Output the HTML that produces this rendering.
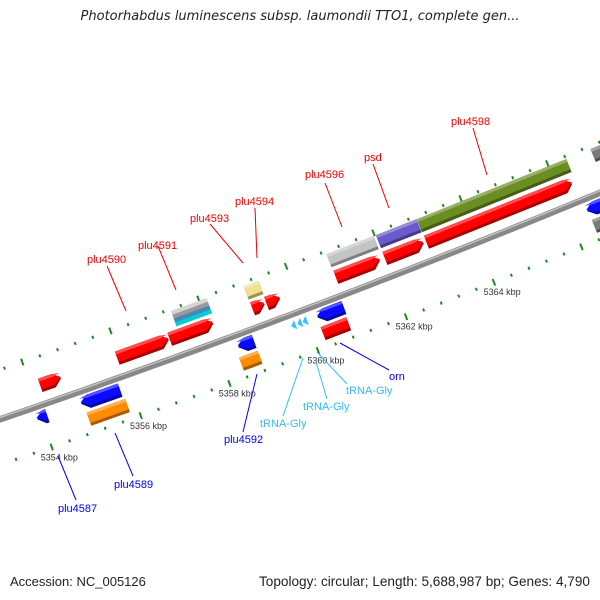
<!DOCTYPE html>
<html><head><meta charset="utf-8">
<style>
html,body{margin:0;padding:0;background:#fff;}
#wrap{position:relative;width:600px;height:600px;overflow:hidden;font-family:"Liberation Sans",sans-serif;}
#title{position:absolute;top:9px;left:0;width:600px;text-align:center;font-style:italic;font-size:13px;color:#222;font-family:"DejaVu Sans",sans-serif;}
.foot{position:absolute;top:574px;font-size:13px;color:#222;}
svg{position:absolute;left:0;top:0;}
</style></head>
<body>
<div id="wrap">
<div id="title">Photorhabdus luminescens subsp. laumondii TTO1, complete gen...</div>
<svg id="map" width="600" height="600"></svg>
<div class="foot" style="left:10px">Accession: NC_005126</div>
<div class="foot" style="right:10px;font-size:13.6px">Topology: circular; Length: 5,688,987 bp; Genes: 4,790</div>
</div>
<script>
// ---- data (kbp positions) ----
const featStart = [5352.9,5354.20,5355.94,5357.13,5359.01,5359.33,5360.91,5362.03,5362.98,
  5357.36,5357.36,5357.36,5357.36,5359.0,5360.9,5362.03,5362.97,5366.97,
  5353.9,5354.89,5358.44,5360.24,5366.4,
  5354.94,5358.38,5360.23,5366.42,
  5359.65,5359.79,5359.91];
const featEnd = [5353.23,5354.67,5357.11,5358.12,5359.29,5359.64,5361.92,5362.92,5366.33,
  5358.17,5358.17,5358.17,5358.17,5359.34,5361.98,5362.96,5366.41,5368.0,
  5354.13,5355.77,5358.80,5360.84,5367.6,
  5355.81,5358.80,5360.81,5367.6,
  5359.75,5359.89,5360.01];
const featLane = [-19,-19,-19,-19,-19,-19,-19,-19,-19,
  -43,-39,-35,-31,-36,-37,-37,-37,-37,
  12,12,12,12,12,
  29,29,29,29,
  11,11,11];
const featColor = ['#ff0000','#ff0000','#ff0000','#ff0000','#ff0000','#ff0000','#ff0000','#ff0000','#ff0000',
  '#d4d4d4','#9a9a9a','#4a86b8','#00cdd4','#eee08c','#c4c4c4','#6a5acd','#6b8e23','#7a7a7a',
  '#0a0aff','#0a0aff','#0a0aff','#0a0aff','#0a0aff',
  '#ff8c00','#ff8c00','#ff0000','#7a7a7a',
  '#33c4ff','#33c4ff','#33c4ff'];
const featKind = ['f','f','f','f','f','f','f','f','f',
  't','t','t','t','b','b','b','b','b',
  'r','r','r','r','r',
  'b','b','b','b',
  'g','g','g'];
const tickStartKbp = 5352, tickEndKbp = 5368;
const tickLabels = [5354,5356,5358,5360,5362,5364];

// ---- geometry ----
const CX=-3403, CY=-9498, R=10485, K0=5360, PXK=47;
const PHI0=Math.atan2(303.1-CY,300-CX);
function pt(k,d){const p=PHI0-(k-K0)*PXK/R, r=R+d;return [CX+r*Math.cos(p),CY+r*Math.sin(p)];}
const svg=document.getElementById('map');
const NS='http://www.w3.org/2000/svg';
function mk(tag,attrs,parent){const e=document.createElementNS(NS,tag);for(const a in attrs)e.setAttribute(a,attrs[a]);(parent||svg).appendChild(e);return e;}
function P(list){return list.map(p=>p[0].toFixed(1)+','+p[1].toFixed(1)).join(' ');}
function shade(hex,f){let n=parseInt(hex.slice(1),16);let r=n>>16,g=(n>>8)&255,b=n&255;
  if(f<0){r*=1+f;g*=1+f;b*=1+f;}else{r+=(255-r)*f;g+=(255-g)*f;b+=(255-b)*f;}
  return 'rgb('+Math.round(r)+','+Math.round(g)+','+Math.round(b)+')';}

// backbone
let bb=[];for(let k=5350;k<=5370;k+=0.25)bb.push(pt(k,0));
const bbl=mk('polyline',{points:P(bb),fill:'none',stroke:'#888','stroke-width':6.5});


let bb2=[];for(let k=5350;k<=5370;k+=0.25)bb2.push(pt(k,-1.8));
mk('polyline',{points:P(bb2),fill:'none',stroke:'#c4c4c4','stroke-width':1.4});

// ticks
const nT=Math.round((tickEndKbp-tickStartKbp)/0.4);
for(let i=0;i<=nT;i++){
  const k=tickStartKbp+i*0.4, big=(i%5===0), h=big?3.5:1.5;
  [-47,43].forEach(d=>{
    const a=pt(k,d-h),b=pt(k,d+h);
    const t=mk('line',{x1:a[0],y1:a[1],x2:b[0],y2:b[1],stroke:'#1e8a1e','stroke-width':2});
    
    
  });
}
tickLabels.forEach(k=>{
  const p=pt(k+0.06,58);
  const t=mk('text',{x:p[0],y:p[1],'text-anchor':'middle','font-size':9,fill:'#333','font-family':'Liberation Sans, sans-serif'});
  t.textContent=k+' kbp';
  
  
});

// features
for(let i=0;i<featStart.length;i++){
  const s=featStart[i],e=featEnd[i],d=featLane[i],c=featColor[i],kind=featKind[i];
  const g=mk('g',{});
  
  
  const half = kind==='t'?2.2:(kind==='g'?5:7);
  const ah=0.17;
  function shape(top,bot){
    const m=(top+bot)/2;
    if(kind==='f'){const tip=Math.max(s,e-ah);return [pt(s,top),pt(tip,top),pt(e,m),pt(tip,bot),pt(s,bot)];}
    if(kind==='r'){const tip=Math.min(e,s+ah);return [pt(s,m),pt(tip,top),pt(e,top),pt(e,bot),pt(tip,bot)];}
    return [pt(s,top),pt(e,top),pt(e,bot),pt(s,bot)];
  }
  const top=d-half,bot=d+half;
  if(kind==='t'){mk('polygon',{points:P(shape(top,bot)),fill:c},g);continue;}
  if(kind==='g'){mk('polygon',{points:P([pt(s,d),pt(e,d-half),pt(e,d+half)]),fill:c},g);continue;}
  mk('polygon',{points:P(shape(top,bot)),fill:shade(c,-0.35)},g);
  mk('polygon',{points:P(shape(top,bot-3)),fill:c},g);
  mk('polygon',{points:P(shape(top,top+3)),fill:shade(c,0.3)},g);
}

// labels + leader lines
const labels=[
 ['plu4590',87,263,'#ee0000',[107,266,126,311]],
 ['plu4591',138,249,'#ee0000',[158,246,176,290]],
 ['plu4593',190,222,'#ee0000',[210,224,243,263]],
 ['plu4594',235,205,'#ee0000',[255,208,257,258]],
 ['plu4596',305,178,'#ee0000',[325,183,342,227]],
 ['psd',364,161,'#ee0000',[373,164,389,208]],
 ['plu4598',451,125,'#ee0000',[473,128,487,175]],
 ['orn',389,380,'#0000ee',[340,343,389,370]],
 ['tRNA-Gly',346,394,'#33bbff',[317,352,347,384]],
 ['tRNA-Gly',303,410,'#33bbff',[316,362,327,399]],
 ['tRNA-Gly',260,427,'#33bbff',[303,358,283,416]],
 ['plu4592',224,443,'#0000ee',[257,374,243,432]],
 ['plu4589',114,488,'#0000ee',[115,433,133,476]],
 ['plu4587',58,512,'#0000ee',[58,456,76,500]]
];
labels.forEach(l=>{
  const ln=mk('line',{x1:l[4][0],y1:l[4][1],x2:l[4][2],y2:l[4][3],stroke:l[3],'stroke-width':1});
  
  
  const t=mk('text',{x:l[1],y:l[2],'font-size':11,fill:l[3],'font-family':'Liberation Sans, sans-serif'});
  t.textContent=l[0];
  
  
});
</script>
</body></html>
